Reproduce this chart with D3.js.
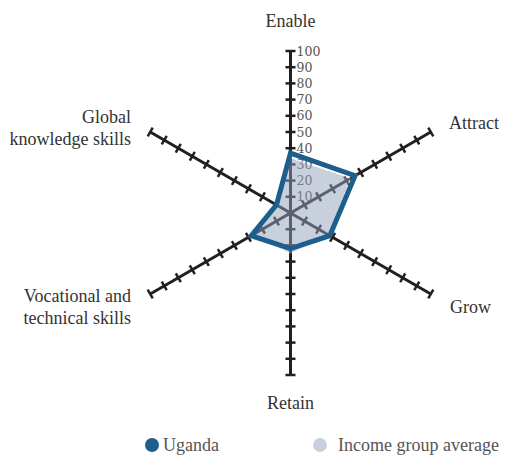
<!DOCTYPE html>
<html>
<head>
<meta charset="utf-8">
<script src="https://cdn.jsdelivr.net/npm/d3@7"></script>
<style>
  body { margin: 0; background: #fff; }
  svg { display: block; }
  .lbl { font-family: "Liberation Serif", "Times New Roman", Times, "DejaVu Serif", serif; font-size: 18px; fill: #333; }
  .tick-lbl { font-family: "DejaVu Serif", "Liberation Serif", serif; font-size: 12.5px; fill: #555; }
  .legend { font-family: "Liberation Serif", "Times New Roman", Times, "DejaVu Serif", serif; font-size: 18px; fill: #555; }
</style>
</head>
<body>
<div id="chart"></div>
<script>
"use strict";

// axes, clockwise from the top
var axes = ["Enable", "Attract", "Grow", "Retain", "Vocational and technical skills", "Global knowledge skills"];
// label lines for each axis
var axisLines = [["Enable"], ["Attract"], ["Grow"], ["Retain"], ["Vocational and", "technical skills"], ["Global", "knowledge skills"]];
var uganda = [37, 46, 28, 22, 28, 10];
var incomeAvg = [34, 43, 27, 25, 27, 10];
var tickValues = [10, 20, 30, 40, 50, 60, 70, 80, 90, 100];
var seriesNames = ["Uganda", "Income group average"];
var seriesColors = ["#1d5f8c", "#c9d0dd"];

var width = 506, height = 455;
var cx = 290.5, cy = 213;

var svg = d3.select("#chart")
            .append("svg")
            .attr("width", width)
            .attr("height", height);

var rscale = d3.scaleLinear()
               .domain([0, 100])
               .range([0, 162]);

var angle = d3.scalePoint()
              .domain(axes)
              .range([0, 2 * Math.PI * 5 / 6]);

function pt(name, v) {
  var a = angle(name);
  return [cx + rscale(v) * Math.sin(a), cy - rscale(v) * Math.cos(a)];
}

var g = svg.append("g");

// axis lines with ticks
axes.forEach(function (name) {
  var a = angle(name);
  var end = pt(name, 100);
  g.append("line")
   .attr("x1", cx).attr("y1", cy)
   .attr("x2", end[0]).attr("y2", end[1])
   .attr("stroke", "#231f20")
   .attr("stroke-width", 3);
  var px = Math.cos(a), py = Math.sin(a);
  g.selectAll(null)
   .data(tickValues)
   .enter()
   .append("line")
   .attr("x1", function (d) { return pt(name, d)[0] - 5 * px; })
   .attr("y1", function (d) { return pt(name, d)[1] - 5 * py; })
   .attr("x2", function (d) { return pt(name, d)[0] + 5 * px; })
   .attr("y2", function (d) { return pt(name, d)[1] + 5 * py; })
   .attr("stroke", "#231f20")
   .attr("stroke-width", 2.5);
});

// tick labels on the top axis
g.selectAll(".tick-lbl")
 .data(tickValues)
 .enter()
 .append("text")
 .attr("class", "tick-lbl")
 .attr("x", cx + 6)
 .attr("y", function (d) { return pt(axes[0], d)[1] + 4.5; })
 .text(function (d) { return d; });

var line = d3.line().curve(d3.curveLinearClosed);

// income group polygon (semi-transparent so axes show through)
g.append("path")
 .attr("d", line(axes.map(function (n, i) { return pt(n, incomeAvg[i]); })))
 .attr("fill", "#93a1bb")
 .attr("fill-opacity", 0.5)
 .attr("stroke", "#fff")
 .attr("stroke-width", 1)
 .attr("stroke-dasharray", "3,3");

// Uganda polygon
g.append("path")
 .attr("d", line(axes.map(function (n, i) { return pt(n, uganda[i]); })))
 .attr("fill", "none")
 .attr("stroke", seriesColors[0])
 .attr("stroke-width", 5)
 .attr("stroke-linejoin", "miter");

// axis labels
var labelPos = [
  { x: 290.5, y: 27, anchor: "middle" },
  { x: 449, y: 129, anchor: "start" },
  { x: 450, y: 313, anchor: "start" },
  { x: 290.5, y: 409, anchor: "middle" },
  { x: 131, y: 302, anchor: "end" },
  { x: 131, y: 123, anchor: "end" }
];
axisLines.forEach(function (lines, i) {
  var t = svg.append("text")
             .attr("class", "lbl")
             .attr("text-anchor", labelPos[i].anchor);
  lines.forEach(function (s, j) {
    t.append("tspan")
     .attr("x", labelPos[i].x)
     .attr("y", labelPos[i].y + j * 21.5)
     .text(s);
  });
});

// legend
var legendX = [152, 320];
var lg = svg.selectAll(".lg")
            .data(seriesNames)
            .enter()
            .append("g")
            .attr("transform", function (d, i) { return "translate(" + legendX[i] + ",445)"; });
lg.append("circle")
  .attr("r", 7)
  .attr("fill", function (d, i) { return seriesColors[i]; });
lg.append("text")
  .attr("class", "legend")
  .attr("x", function (d, i) { return i === 0 ? 11 : 18; })
  .attr("y", 5.5)
  .text(function (d) { return d; });
</script>
</body>
</html>
